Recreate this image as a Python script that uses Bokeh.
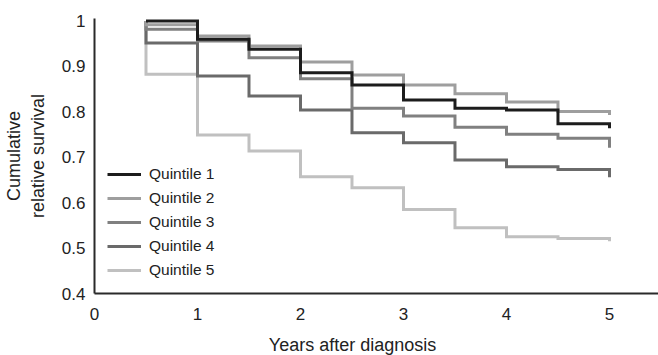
import math
from bokeh.plotting import figure
from bokeh.models import Range1d, FixedTicker, Legend, LegendItem, Label
from bokeh.embed import file_html
from bokeh.resources import INLINE

# ---- data ----
years = [0.5, 0.5, 1.0, 1.5, 2.0, 2.5, 3.0, 3.5, 4.0, 4.5, 5.0]
quintile_1 = [1.000, 1.000, 0.960, 0.938, 0.886, 0.859, 0.826, 0.808, 0.804, 0.774, 0.764]
quintile_2 = [1.000, 0.992, 0.967, 0.945, 0.910, 0.881, 0.859, 0.840, 0.822, 0.801, 0.793]
quintile_3 = [1.000, 0.982, 0.956, 0.919, 0.873, 0.808, 0.791, 0.766, 0.751, 0.742, 0.721]
quintile_4 = [1.000, 0.952, 0.879, 0.835, 0.804, 0.754, 0.732, 0.694, 0.679, 0.673, 0.656]
quintile_5 = [1.000, 0.883, 0.749, 0.714, 0.657, 0.633, 0.585, 0.545, 0.525, 0.521, 0.515]
series_names = ["Quintile 1", "Quintile 2", "Quintile 3", "Quintile 4", "Quintile 5"]
x_ticks = [0, 1, 2, 3, 4, 5]
y_ticks = [0.4, 0.5, 0.6, 0.7, 0.8, 0.9, 1.0]
y_tick_labels = ["0.4", "0.5", "0.6", "0.7", "0.8", "0.9", "1"]

colors = ["#1c1c1c", "#9e9e9e", "#808080", "#6a6a6a", "#c0c0c0"]
FONT = "Liberation Sans"
TEXT = "#222222"

W, H = 658, 355
p = figure(width=W, height=H, output_backend="svg", toolbar_location=None,
           x_range=Range1d(0, 5.476), y_range=Range1d(0.4, 1.0057),
           min_border_left=94, min_border_right=0, min_border_top=18,
           min_border_bottom=62)
p.outline_line_color = None
p.xgrid.visible = False
p.ygrid.visible = False
p.background_fill_color = "white"

series = [quintile_1, quintile_2, quintile_3, quintile_4, quintile_5]
renderers = [None] * 5
for i in [4, 3, 2, 1, 0]:
    renderers[i] = p.step(years, series[i], mode="after", line_color=colors[i],
                          line_width=3, line_join="miter")

legend = Legend(items=[LegendItem(label=series_names[i], renderers=[renderers[i]])
                       for i in range(5)],
                location="bottom_left", margin=13, padding=0, spacing=4,
                glyph_width=34, glyph_height=20, label_height=20,
                label_standoff=8, label_text_font=FONT,
                label_text_font_size="15.5px", label_text_color=TEXT,
                background_fill_alpha=0, border_line_color=None)
p.add_layout(legend, "center")

for ax in (p.xaxis[0], p.yaxis[0]):
    ax.axis_line_color = "#2a2a2a"
    ax.axis_line_width = 2
    ax.major_tick_line_color = None
    ax.minor_tick_line_color = None
    ax.major_tick_out = 0
    ax.major_tick_in = 0
    ax.minor_tick_out = 0
    ax.minor_tick_in = 0
    ax.major_label_text_font = FONT
    ax.major_label_text_font_size = "17px"
    ax.major_label_text_color = TEXT

p.xaxis.ticker = FixedTicker(ticks=x_ticks)
p.yaxis.ticker = FixedTicker(ticks=y_ticks)
p.yaxis.major_label_overrides = {v: s for v, s in zip(y_ticks, y_tick_labels)}
p.xaxis.major_label_standoff = 14
p.yaxis.major_label_standoff = 9

p.yaxis.axis_label = "Cumulative\nrelative survival"
p.yaxis.axis_label_text_font = FONT
p.yaxis.axis_label_text_font_size = "18px"
p.yaxis.axis_label_text_font_style = "normal"
p.yaxis.axis_label_text_color = TEXT
p.yaxis.axis_label_standoff = 11

# x-axis title in the panel below the axis
p.add_layout(Label(x=258, y=-12, x_units="screen", y_units="screen",
                   text="Years after diagnosis", text_align="center",
                   text_baseline="bottom", text_font=FONT, text_font_size="18px",
                   text_color=TEXT), "below")

open("out.html", "w").write(file_html(p, INLINE))
